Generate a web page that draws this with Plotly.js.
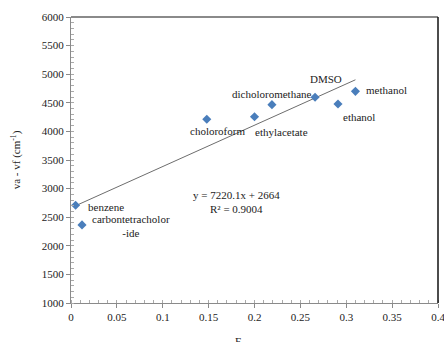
<!DOCTYPE html>
<html>
<head>
<meta charset="utf-8">
<script src="https://cdn.plot.ly/plotly-3.0.1.min.js"></script>
<style>html,body{margin:0;padding:0;background:#fff;}#chart{width:444px;height:342px;}</style>
</head>
<body>
<div id="chart"></div>
<script>
const solvents = ["benzene","carbontetracholor<br>-ide","choloroform","ethylacetate","dicholoromethane","DMSO","ethanol","methanol"];
const fValues = [0.005, 0.012, 0.148, 0.200, 0.219, 0.266, 0.291, 0.310];
const shiftValues = [2710, 2365, 4212, 4255, 4468, 4597, 4478, 4700];
const fitSlope = 7220.1;
const fitIntercept = 2664;
const fitText = "y = 7220.1x + 2664<br>R\u00b2 = 0.9004";
const xTicks = [0, 0.05, 0.1, 0.15, 0.2, 0.25, 0.3, 0.35, 0.4];
const yTicks = [1000, 1500, 2000, 2500, 3000, 3500, 4000, 4500, 5000, 5500, 6000];

// label offsets in pixels (style, not data); positive yshift = up
const labelOffsets = [[30,-2],[49,-1],[11,-12],[27,-15],[0,11],[11,18],[21,-13],[31,1]];

const fMin = Math.min(...fValues), fMax = Math.max(...fValues);
const trendX = [fMin, fMax];
const trendY = trendX.map(v => fitSlope * v + fitIntercept);

const font = {family: "Liberation Serif", size: 11, color: "#222"};

const traces = [
  {x: trendX, y: trendY, mode: "lines", line: {color: "#6d6d6d", width: 1}, hoverinfo: "skip", showlegend: false},
  {x: fValues, y: shiftValues, mode: "markers", marker: {symbol: "diamond", size: 7, color: "#4a7ebb"}, showlegend: false}
];

const annotations = solvents.map((s, i) => ({
  x: fValues[i], y: shiftValues[i], xref: "x", yref: "y", text: s, showarrow: false,
  xshift: labelOffsets[i][0], yshift: labelOffsets[i][1], font: font, align: "center"
}));
annotations.push({x: 0.18, y: 2766, xref: "x", yref: "y", text: fitText, showarrow: false, font: font, align: "center"});
annotations.push({x: 0.5, y: -0.105, xref: "paper", yref: "paper", text: "F", showarrow: false, font: font, xshift: -17, yanchor: "top"});

const layout = {
  width: 444, height: 342,
  margin: {l: 71, r: 6, t: 17, b: 39},
  paper_bgcolor: "#fff", plot_bgcolor: "#fff",
  font: font,
  xaxis: {
    range: [0, 0.4], tickvals: xTicks, ticktext: xTicks.map(String),
    showgrid: false, zeroline: false, showline: true, linecolor: "#8a8a8a", linewidth: 1,
    ticks: "outside", ticklen: 4, tickcolor: "#8a8a8a", ticklabeloverflow: "allow",
    minor: {dtick: 0.01, ticks: "inside", ticklen: 3, tickcolor: "#aaa", showgrid: false},
    tickfont: font
  },
  yaxis: {
    range: [1000, 6000], tickvals: yTicks, ticktext: yTicks.map(String),
    showgrid: false, zeroline: false, showline: true, linecolor: "#8a8a8a", linewidth: 1,
    ticks: "outside", ticklen: 4, tickcolor: "#8a8a8a", ticklabeloverflow: "allow",
    minor: {dtick: 100, ticks: "inside", ticklen: 3, tickcolor: "#aaa", showgrid: false},
    tickfont: font,
    title: {text: "va - vf (cm<sup>-1</sup>)", font: font, standoff: 18}
  },
  shapes: [
    {type: "line", xref: "paper", yref: "paper", x0: 0, x1: 1, y0: 1, y1: 1, line: {color: "#8a8a8a", width: 2}},
    {type: "line", xref: "paper", yref: "paper", x0: 1, x1: 1, y0: 0, y1: 1, line: {color: "#111", width: 1.5}}
  ],
  annotations: annotations
};

Plotly.newPlot("chart", traces, layout, {displayModeBar: false, staticPlot: true});
</script>
</body>
</html>
